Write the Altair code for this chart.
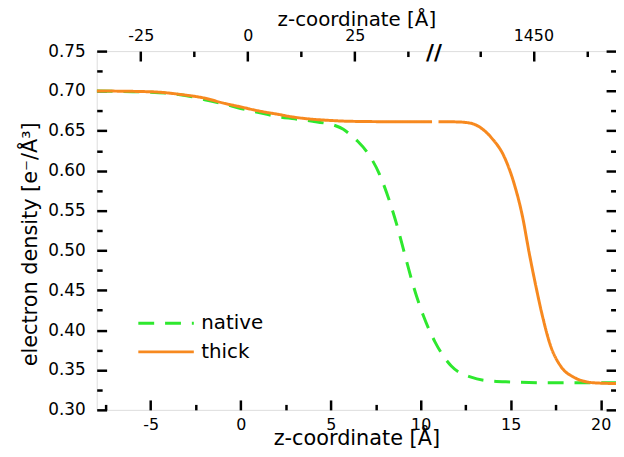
import altair as alt
import pandas as pd

FONT = "DejaVu Sans"

# ---- data ----
native_z = [-8, -6, -5, -4, -3, -2, -1, 0, 1, 2, 3, 4, 4.6, 5.2, 5.7, 6.1, 6.5,
            7.0, 7.7, 8.25, 8.7, 9.15, 9.6, 10.15, 10.8, 11.7, 12.8, 14, 15, 17,
            20.85]
native_rho = [0.700, 0.699, 0.6985, 0.697, 0.694, 0.689, 0.684, 0.678, 0.673,
              0.668, 0.665, 0.662, 0.660, 0.657, 0.652, 0.645, 0.637, 0.624,
              0.596, 0.563, 0.530, 0.492, 0.455, 0.418, 0.385, 0.355, 0.341,
              0.336, 0.335, 0.334, 0.334]

thick_z_before_break = [-8, -5, -3.3, -2, -1, 0, 1, 2, 3, 4, 5, 6, 8, 10.63]
thick_rho_before_break = [0.700, 0.699, 0.6955, 0.691, 0.685, 0.680, 0.675,
                          0.671, 0.667, 0.6645, 0.663, 0.662, 0.6615, 0.6615]
thick_z_after_break = [10.99, 12.0, 12.5, 13.0, 13.92, 14.65, 15.2, 15.66, 16.03,
                       16.4, 16.76, 17.22, 17.77, 18.5, 19.6, 20.85]
thick_rho_after_break = [0.6615, 0.6612, 0.6605, 0.658, 0.6415, 0.617, 0.583,
                         0.542, 0.4965, 0.455, 0.418, 0.380, 0.355, 0.341,
                         0.334, 0.333]

series_names = ["native", "thick"]
series_colors = ["#2ee82e", "#f7891f"]
series_dashes = [[16, 11], [1, 0]]

bottom_major_ticks = [-5, 0, 5, 10, 15, 20]
bottom_minor_ticks = [-7.5, -2.5, 2.5, 7.5, 12.5, 17.5]
y_major_ticks = [0.30, 0.35, 0.40, 0.45, 0.50, 0.55, 0.60, 0.65, 0.70, 0.75]
y_minor_ticks = [0.325, 0.375, 0.425, 0.475, 0.525, 0.575, 0.625, 0.675, 0.725]
top_major_labels = [-25, 0, 25, 1450]
top_minor_labels = [-12.5, 12.5, 37.5, 1437.5, 1462.5]
top_break_at = 43.5          # position of the axis break on the top scale
top_break_shift = 1383.3     # values beyond the break are shifted by this

z_domain = [-8, 20.85]
top_domain = [-35.3, 86.0]
rho_domain = [0.30, 0.75]


def top_pos(v):
    return v - top_break_shift if v > top_break_at else v


rows = []
for z, r in zip(native_z, native_rho):
    rows.append({"z": z, "rho": r, "series": "native", "part": "native-a"})
for z, r in zip(thick_z_before_break, thick_rho_before_break):
    rows.append({"z": z, "rho": r, "series": "thick", "part": "thick-a"})
for z, r in zip(thick_z_after_break, thick_rho_after_break):
    rows.append({"z": z, "rho": r, "series": "thick", "part": "thick-b"})
df = pd.DataFrame(rows)

frame_df = pd.DataFrame({"z": z_domain, "rho": rho_domain})
top_df = pd.DataFrame({"t": top_domain, "rho": rho_domain})
break_df = pd.DataFrame({"t": [top_break_at], "label": ["//"]})

MAJOR = 10
MINOR = 5.5


def tick_axis(orient, values, size, **kw):
    base = dict(orient=orient, values=values, offset=-size, tickSize=size,
                tickWidth=2.5, tickColor="black", domain=False, grid=False,
                labelFont=FONT, labelColor="black", labelFlush=False,
                labelOverlap=False, labelBound=False,
                titleFont=FONT, titleColor="black", titleFontWeight="normal")
    if "labels" not in kw:
        kw["labels"] = False
    if "title" not in kw:
        kw["title"] = None
    base.update(kw)
    return alt.Axis(**base)


z_scale = alt.Scale(domain=z_domain, nice=False, zero=False)
rho_scale = alt.Scale(domain=rho_domain, nice=False, zero=False)
t_scale = alt.Scale(domain=top_domain, nice=False, zero=False)

bottom_major = tick_axis("bottom", bottom_major_ticks, MAJOR, labels=True,
                         labelFontSize=16, labelPadding=6.5,
                         labelExpr="toString(datum.value)",
                         title="z-coordinate [Å]", titleFontSize=21,
                         titleBaseline="alphabetic", titleY=45)
left_major = tick_axis("left", y_major_ticks, MAJOR, labels=True,
                       labelFontSize=17, labelPadding=11.5, format=".2f",
                       title="electron density [e⁻/Å³]", titleFontSize=21,
                       titleBaseline="alphabetic", titleAlign="center",
                       titleAngle=270, titleX=-70.5, titleY=194.5)
bottom_minor = tick_axis("bottom", bottom_minor_ticks, MINOR)
left_minor = tick_axis("left", y_minor_ticks, MINOR)

top_major = tick_axis("top", [top_pos(v) for v in top_major_labels], MAJOR,
                      labels=True, labelFontSize=16, labelPadding=7.8,
                      labelExpr=("toString(round(datum.value > %s ? datum.value + %s"
                                 " : datum.value))" % (top_break_at, top_break_shift)),
                      title="z-coordinate [Å]", titleFontSize=20,
                      titleBaseline="alphabetic", titleY=-35.5)
right_major = tick_axis("right", y_major_ticks, MAJOR)
top_minor = tick_axis("top", [top_pos(v) for v in top_minor_labels], MINOR)
right_minor = tick_axis("right", y_minor_ticks, MINOR)

legend = alt.Legend(orient="none", legendX=40.5, legendY=264.5, title=None,
                    symbolType="stroke", symbolSize=3136, symbolStrokeWidth=3,
                    labelFont=FONT, labelFontSize=20, labelColor="black",
                    labelOffset=6, clipHeight=20, rowPadding=9, padding=0)

lines = alt.Chart(df).mark_line(strokeWidth=3, interpolate="monotone", clip=True).encode(
    x=alt.X("z:Q", scale=z_scale, axis=bottom_major),
    y=alt.Y("rho:Q", scale=rho_scale, axis=left_major),
    color=alt.Color("series:N", scale=alt.Scale(domain=series_names, range=series_colors),
                    legend=legend),
    strokeDash=alt.StrokeDash("series:N",
                              scale=alt.Scale(domain=series_names, range=series_dashes),
                              legend=legend),
    detail="part:N",
)

minor_ticks = alt.Chart(frame_df).mark_point(opacity=0).encode(
    x=alt.X("z:Q", scale=z_scale, axis=bottom_minor),
    y=alt.Y("rho:Q", scale=rho_scale, axis=left_minor),
)

top_major_layer = alt.Chart(top_df).mark_point(opacity=0).encode(
    x=alt.X("t:Q", scale=t_scale, axis=top_major),
    y=alt.Y("rho:Q", scale=rho_scale, axis=right_major),
)

top_minor_layer = alt.Chart(top_df).mark_point(opacity=0).encode(
    x=alt.X("t:Q", scale=t_scale, axis=top_minor),
    y=alt.Y("rho:Q", scale=rho_scale, axis=right_minor),
)

break_mark = alt.Chart(break_df).mark_text(
    font=FONT, fontSize=22, fontWeight="bold", color="black",
    align="center", baseline="middle",
).encode(
    x=alt.X("t:Q", scale=t_scale, axis=None),
    y=alt.value(2),
    text="label:N",
)

chart = alt.layer(
    lines, minor_ticks, top_major_layer, top_minor_layer, break_mark
).resolve_scale(
    x="independent", y="independent"
).resolve_axis(
    x="independent", y="independent"
).properties(
    width=524, height=362,
    autosize=alt.AutoSizeParams(type="none"),
    padding={"left": 89.5, "top": 41.5, "right": 0, "bottom": 37.5},
).configure_view(
    stroke="black", strokeWidth=3
).configure(
    font=FONT
)

chart.save("out.html", embed_options={"renderer": "svg", "actions": False})
